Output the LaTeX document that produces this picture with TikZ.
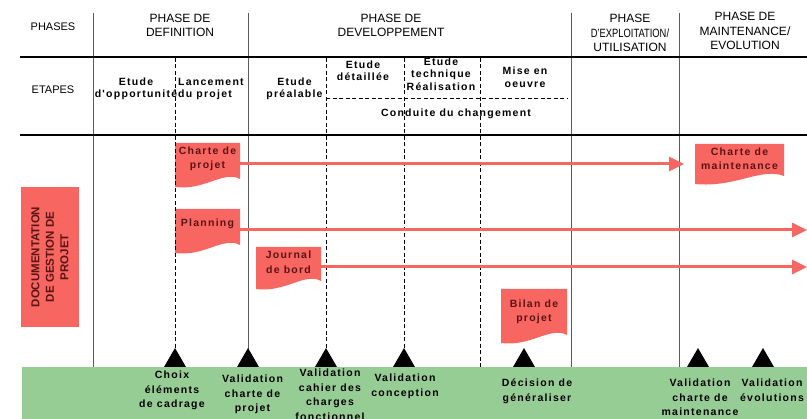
\documentclass[tikz,border=0pt]{standalone}
\usepackage{fontspec}
\setmainfont{Liberation Sans}
\newfontfamily\spfont[LetterSpace=12]{Liberation Sans}
\usetikzlibrary{arrows.meta,calc}
\definecolor{docred}{RGB}{248,102,98}
\definecolor{doctxt}{RGB}{90,20,20}
\definecolor{band}{RGB}{150,205,148}
\definecolor{gridgray}{RGB}{90,90,90}
\newcommand\docshape[4]{%
  \fill[docred] (#1,#2) -- (#3,#2) -- (#3,#4-8)
    .. controls (#3-0.25*#3+0.25*#1,#4-17) and (#1+0.45*#3-0.45*#1,#4+4) .. (#1,#4) -- cycle;}
\begin{document}
\begin{tikzpicture}[x=1pt,y=-1pt,
  hdr/.style={font=\fontsize{12}{14.5}\selectfont, align=center, inner sep=0pt},
  lbl/.style={font=\fontsize{11}{12}\selectfont, inner sep=0pt},
  etape/.style={font=\spfont\bfseries\fontsize{10.5}{12.5}\selectfont, align=center, inner sep=0pt},
  ms/.style={font=\spfont\bfseries\fontsize{10.5}{14.5}\selectfont, align=center, inner sep=0pt, anchor=north},
  doctext/.style={font=\spfont\bfseries\fontsize{10.5}{14.5}\selectfont, text=doctxt, align=center, inner sep=0pt},
  rule/.style={line width=2.6pt, black},
  sep/.style={line width=0.7pt, gridgray},
  dsep/.style={line width=0.8pt, black, dash pattern=on 4pt off 2.5pt},
  flow/.style={docred, line width=3pt, -{Triangle[length=15pt,width=14pt]}},
  mile/.style={fill=black}
]
\useasboundingbox (0,0) rectangle (807,419);
\fill[white] (0,0) rectangle (807,419);

% green band
\fill[band] (22,367) rectangle (807,419);

% documents
\docshape{175}{143}{240}{187}
\docshape{175}{209}{240}{253}
\docshape{256}{247}{321}{289}
\docshape{501}{289}{567}{343}
\docshape{695}{144}{784}{184}
\fill[docred] (21,187) rectangle (79,327);

% grid lines
\foreach \x in {93,248,571,679} \draw[sep] (\x,13) -- (\x,367);
\foreach \x in {175,326,404,480} \draw[dsep] (\x,58) -- (\x,367);
\draw[dsep] (326,98) -- (568,98);
\draw[rule] (20,57) -- (807,57);
\draw[rule] (20,135) -- (807,135);

% header
\node[lbl] (phases) at (53,27) {PHASES};
\node[hdr] (pdef) at (180,25.5) {PHASE DE\\DEFINITION};
\node[hdr] (pdev) at (391,25.5) {PHASE DE\\DEVELOPPEMENT};
\node[hdr] (pexp) at (630,33) {PHASE\\\scalebox{0.78}[1]{D'EXPLOITATION/}\\UTILISATION};
\node[hdr] (pmain) at (745,31) {PHASE DE\\MAINTENANCE/\\EVOLUTION};

% etapes
\node[lbl] (etapes) at (53,90) {ETAPES};
\node[etape] (eopp) at (136,89) {Etude\\d'opportunité};
\node[etape, anchor=west, align=left] (elanc) at (178,89) {Lancement\\du projet};
\node[etape] (epre) at (294.5,89) {Etude\\préalable};
\node[etape] (edet) at (363,71) {Etude\\détaillée};
\node[etape] (etech) at (441,74) {Etude\\technique\\Réalisation};
\node[etape] (emise) at (525,77.5) {Mise en\\oeuvre};
\node[etape] (econd) at (456,114) {Conduite du changement};

% documentation
\node[font=\bfseries\fontsize{11.5}{14.5}\selectfont, text=doctxt, align=center, rotate=90, inner sep=0pt] (docu) at (50,257) {DOCUMENTATION\\DE GESTION DE\\PROJET};

% document texts
\node[doctext, minimum width=65pt] (charte) at (207.5,159) {Charte de\\projet};
\node[doctext, minimum width=65pt] (plan) at (207.5,224) {Planning};
\node[doctext, minimum width=65pt] (journal) at (288.5,262) {Journal\\de bord};
\node[doctext] (bilan) at (534,312) {Bilan de\\projet};
\node[doctext] (chartem) at (739.5,159) {Charte de\\maintenance};

% flows
\coordinate (f1) at (684,164);
\coordinate (f2) at (807,230);
\coordinate (f3) at (807,267);
\draw[flow] ($(charte.east)+(0,5)$) -- (f1);
\draw[flow] ($(plan.east)+(0,6)$) -- (f2);
\draw[flow] ($(journal.east)+(0,5)$) -- (f3);

% milestones
\foreach \x in {175,248,326,404,524,698,763}
  \fill[mile] (\x-11,367) -- (\x,348) -- (\x+11,367) -- cycle;

\node[ms] (m1) at (172,371) {Choix\\éléments\\de cadrage};
\node[ms] (m2) at (252.5,375) {Validation\\charte de\\projet};
\node[ms] (m3) at (330,369) {Validation\\cahier des\\charges\\fonctionnel};
\node[ms] (m4) at (405,374) {Validation\\conception};
\node[ms] (m5) at (537,379) {Décision de\\généraliser};
\node[ms] (m6) at (700,379) {Validation\\charte de\\maintenance};
\node[ms] (m7) at (772,379) {Validation\\évolutions};
\end{tikzpicture}
\end{document}
